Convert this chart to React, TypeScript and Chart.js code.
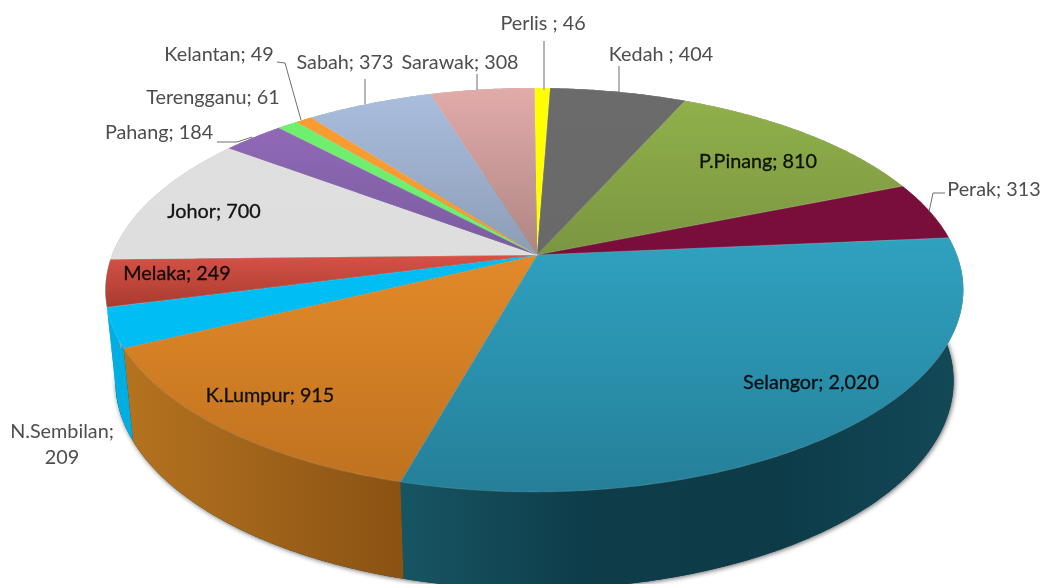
import React, { useEffect, useRef } from "react";
import { Chart, registerables } from "chart.js";

Chart.register(...registerables);

const states = ["Perlis", "Kedah", "P.Pinang", "Perak", "Selangor", "K.Lumpur", "N.Sembilan", "Melaka", "Johor", "Pahang", "Terengganu", "Kelantan", "Sabah", "Sarawak"];
const registrations = [46, 404, 810, 313, 2020, 915, 209, 249, 700, 184, 61, 49, 373, 308];
const topColors = ["#ffff00", "#6b6b6b", "#90b04b", "#7a0e3b", "#2fa2c0", "#e28a2a", "#00bdf4", "#d65247", "#dfdfdf", "#9069b6", "#6ef06e", "#f89c30", "#a9bddd", "#e2abaa"];
const bottomColors = ["#ffff00", "#696969", "#7b9640", "#7a0e3b", "#257f99", "#c0721f", "#00bdf4", "#a93b30", "#dedede", "#7b5b9f", "#6ef06e", "#f89c30", "#8c9db6", "#ad8683"];
const wallColors = [
  ["#888"], ["#444"], ["#5a7030"], ["#500a28"],
  ["#175563", "#0e3c49", "#0d3b48", "#134958"],
  ["#b5731f", "#a0631a", "#8a5213"],
  ["#00aee2"], ["#00aee2"], ["#999"], ["#5a4080"], ["#4aa84a"], ["#b06a20"], ["#7080a0"], ["#907070"],
];

const labelTexts = ["Perlis ; 46", "Kedah ; 404", "P.Pinang; 810", "Perak; 313", "Selangor; 2,020", "K.Lumpur; 915", "N.Sembilan;|209", "Melaka; 249", "Johor; 700", "Pahang; 184", "Terengganu; 61", "Kelantan; 49", "Sabah; 373", "Sarawak; 308"];
const labelX = [543, 661, 758, 994, 811, 270, 62, 177, 214, 159, 213, 219, 345, 460];
const labelY = [24, 55, 162, 190, 383, 396, 432, 274, 212, 133, 98, 55, 63, 63];
const labelInside = [false, false, true, false, true, true, false, true, true, false, false, false, false, false];
const leaders: number[][][] = [
  [[544, 41], [544, 90]],
  [[619, 66], [619, 92]],
  [],
  [[945, 193], [933, 193], [929, 212]],
  [], [], [], [], [],
  [[217, 142], [237, 142], [252, 137]],
  [],
  [[277, 62], [285, 63], [301, 120]],
  [[365, 79], [365, 104]],
  [[477, 74], [477, 90]],
];

const CX = 537, CY = 255, A = 422.5, B = 195.9, K = 0.173, M = 0.006;
const DEG = Math.PI / 180;
const project = (raw: number): [number, number] => {
  let n = raw;
  while (n < -Math.PI / 2) n += Math.PI * 2;
  while (n > (3 * Math.PI) / 2) n -= Math.PI * 2;
  const ang = raw + 0.0214 * Math.exp(-(((n - 105 * DEG) / (30 * DEG)) ** 2));
  const x = Math.cos(ang), y = Math.sin(ang);
  const w = 1 - K * y + M * x;
  return [CX + (A * x) / w, CY + (B * y) / w];
};
const lower = (p: [number, number]): [number, number] => [CX + 0.977 * (p[0] - CX), 1.03 * p[1] + 82.5];

const rim = (s: number, e: number) => {
  const pts: [number, number][] = [];
  const n = Math.max(2, Math.ceil(Math.abs(e - s) / 0.008));
  for (let i = 0; i <= n; i++) pts.push(project(s + ((e - s) * i) / n));
  return pts;
};

const pie3d = {
  id: "pie3d",
  beforeDatasetsDraw(chart: any) {
    const ctx: CanvasRenderingContext2D = chart.ctx;
    const arcs = chart.getDatasetMeta(0).data as any[];
    ctx.save();

    const whole = rim(0, Math.PI * 2).map(lower);
    ctx.save();
    ctx.shadowColor = "rgba(0,0,0,0.6)";
    ctx.shadowBlur = 5;
    ctx.shadowOffsetX = 1;
    ctx.shadowOffsetY = 1;
    ctx.fillStyle = "#0d3b48";
    ctx.beginPath();
    whole.forEach((p, i) => (i ? ctx.lineTo(p[0], p[1]) : ctx.moveTo(p[0], p[1])));
    ctx.closePath();
    ctx.fill();
    ctx.restore();

    arcs.forEach((arc, i) => {
      const top = rim(arc.startAngle, arc.endAngle);
      const bot = top.map(lower).reverse();
      const xs = top.map((p) => p[0]);
      const g = ctx.createLinearGradient(Math.min(...xs), 0, Math.max(...xs), 0);
      const cols = wallColors[i];
      cols.forEach((c, j) => g.addColorStop(cols.length > 1 ? j / (cols.length - 1) : 0, c));
      ctx.fillStyle = g;
      ctx.beginPath();
      [...top, ...bot].forEach((p, j) => (j ? ctx.lineTo(p[0], p[1]) : ctx.moveTo(p[0], p[1])));
      ctx.closePath();
      ctx.fill();
    });

    arcs.forEach((arc, i) => {
      const pts = rim(arc.startAngle, arc.endAngle);
      const ys = [CY, ...pts.map((p) => p[1])];
      const g = ctx.createLinearGradient(0, Math.min(...ys), 0, Math.max(...ys));
      g.addColorStop(0, topColors[i]);
      g.addColorStop(1, bottomColors[i]);
      ctx.fillStyle = g;
      ctx.strokeStyle = "rgba(255,255,255,0.14)";
      ctx.lineWidth = 1;
      ctx.lineJoin = "round";
      ctx.beginPath();
      ctx.moveTo(CX, CY);
      pts.forEach((p) => ctx.lineTo(p[0], p[1]));
      ctx.closePath();
      ctx.fill();
      ctx.stroke();
    });

    leaders.forEach((line, i) => {
      if (!line.length) return;
      ctx.strokeStyle = i === 0 ? "#b5b5b5" : "#6f6f6f";
      ctx.lineWidth = i === 0 ? 2 : 1;
      ctx.beginPath();
      line.forEach((p, j) => (j ? ctx.lineTo(p[0], p[1]) : ctx.moveTo(p[0], p[1])));
      ctx.stroke();
    });

    ctx.font = '19.8px Lato, "Open Sans", sans-serif';
    ctx.textAlign = "center";
    ctx.textBaseline = "middle";
    labelTexts.forEach((t, i) => {
      ctx.fillStyle = labelInside[i] ? "rgba(10,10,10,0.95)" : "#4d4d4d";
      ctx.strokeStyle = ctx.fillStyle;
      ctx.lineWidth = 0.3;
      t.split("|").forEach((line, j) => {
        ctx.fillText(line, labelX[i], labelY[i] + j * 26);
        if (labelInside[i]) ctx.strokeText(line, labelX[i], labelY[i] + j * 26);
      });
    });

    ctx.restore();
    return false;
  },
};

export default function App() {
  const ref = useRef<HTMLCanvasElement>(null);
  useEffect(() => {
    const chart = new Chart(ref.current as HTMLCanvasElement, {
      type: "pie",
      data: { labels: states, datasets: [{ data: registrations, backgroundColor: topColors }] },
      options: {
        animation: false,
        responsive: false,
        rotation: -0.4,
        plugins: { legend: { display: false }, tooltip: { enabled: false } },
      },
      plugins: [pie3d],
    } as any);
    return () => chart.destroy();
  }, []);
  return (
    <div style={{ position: "absolute", left: 0, top: 0, width: 1046, height: 584, overflow: "hidden", background: "#fff" }}>
      <canvas ref={ref} width={1046} height={584} style={{ display: "block", filter: "blur(0.7px)" }} />
    </div>
  );
}
